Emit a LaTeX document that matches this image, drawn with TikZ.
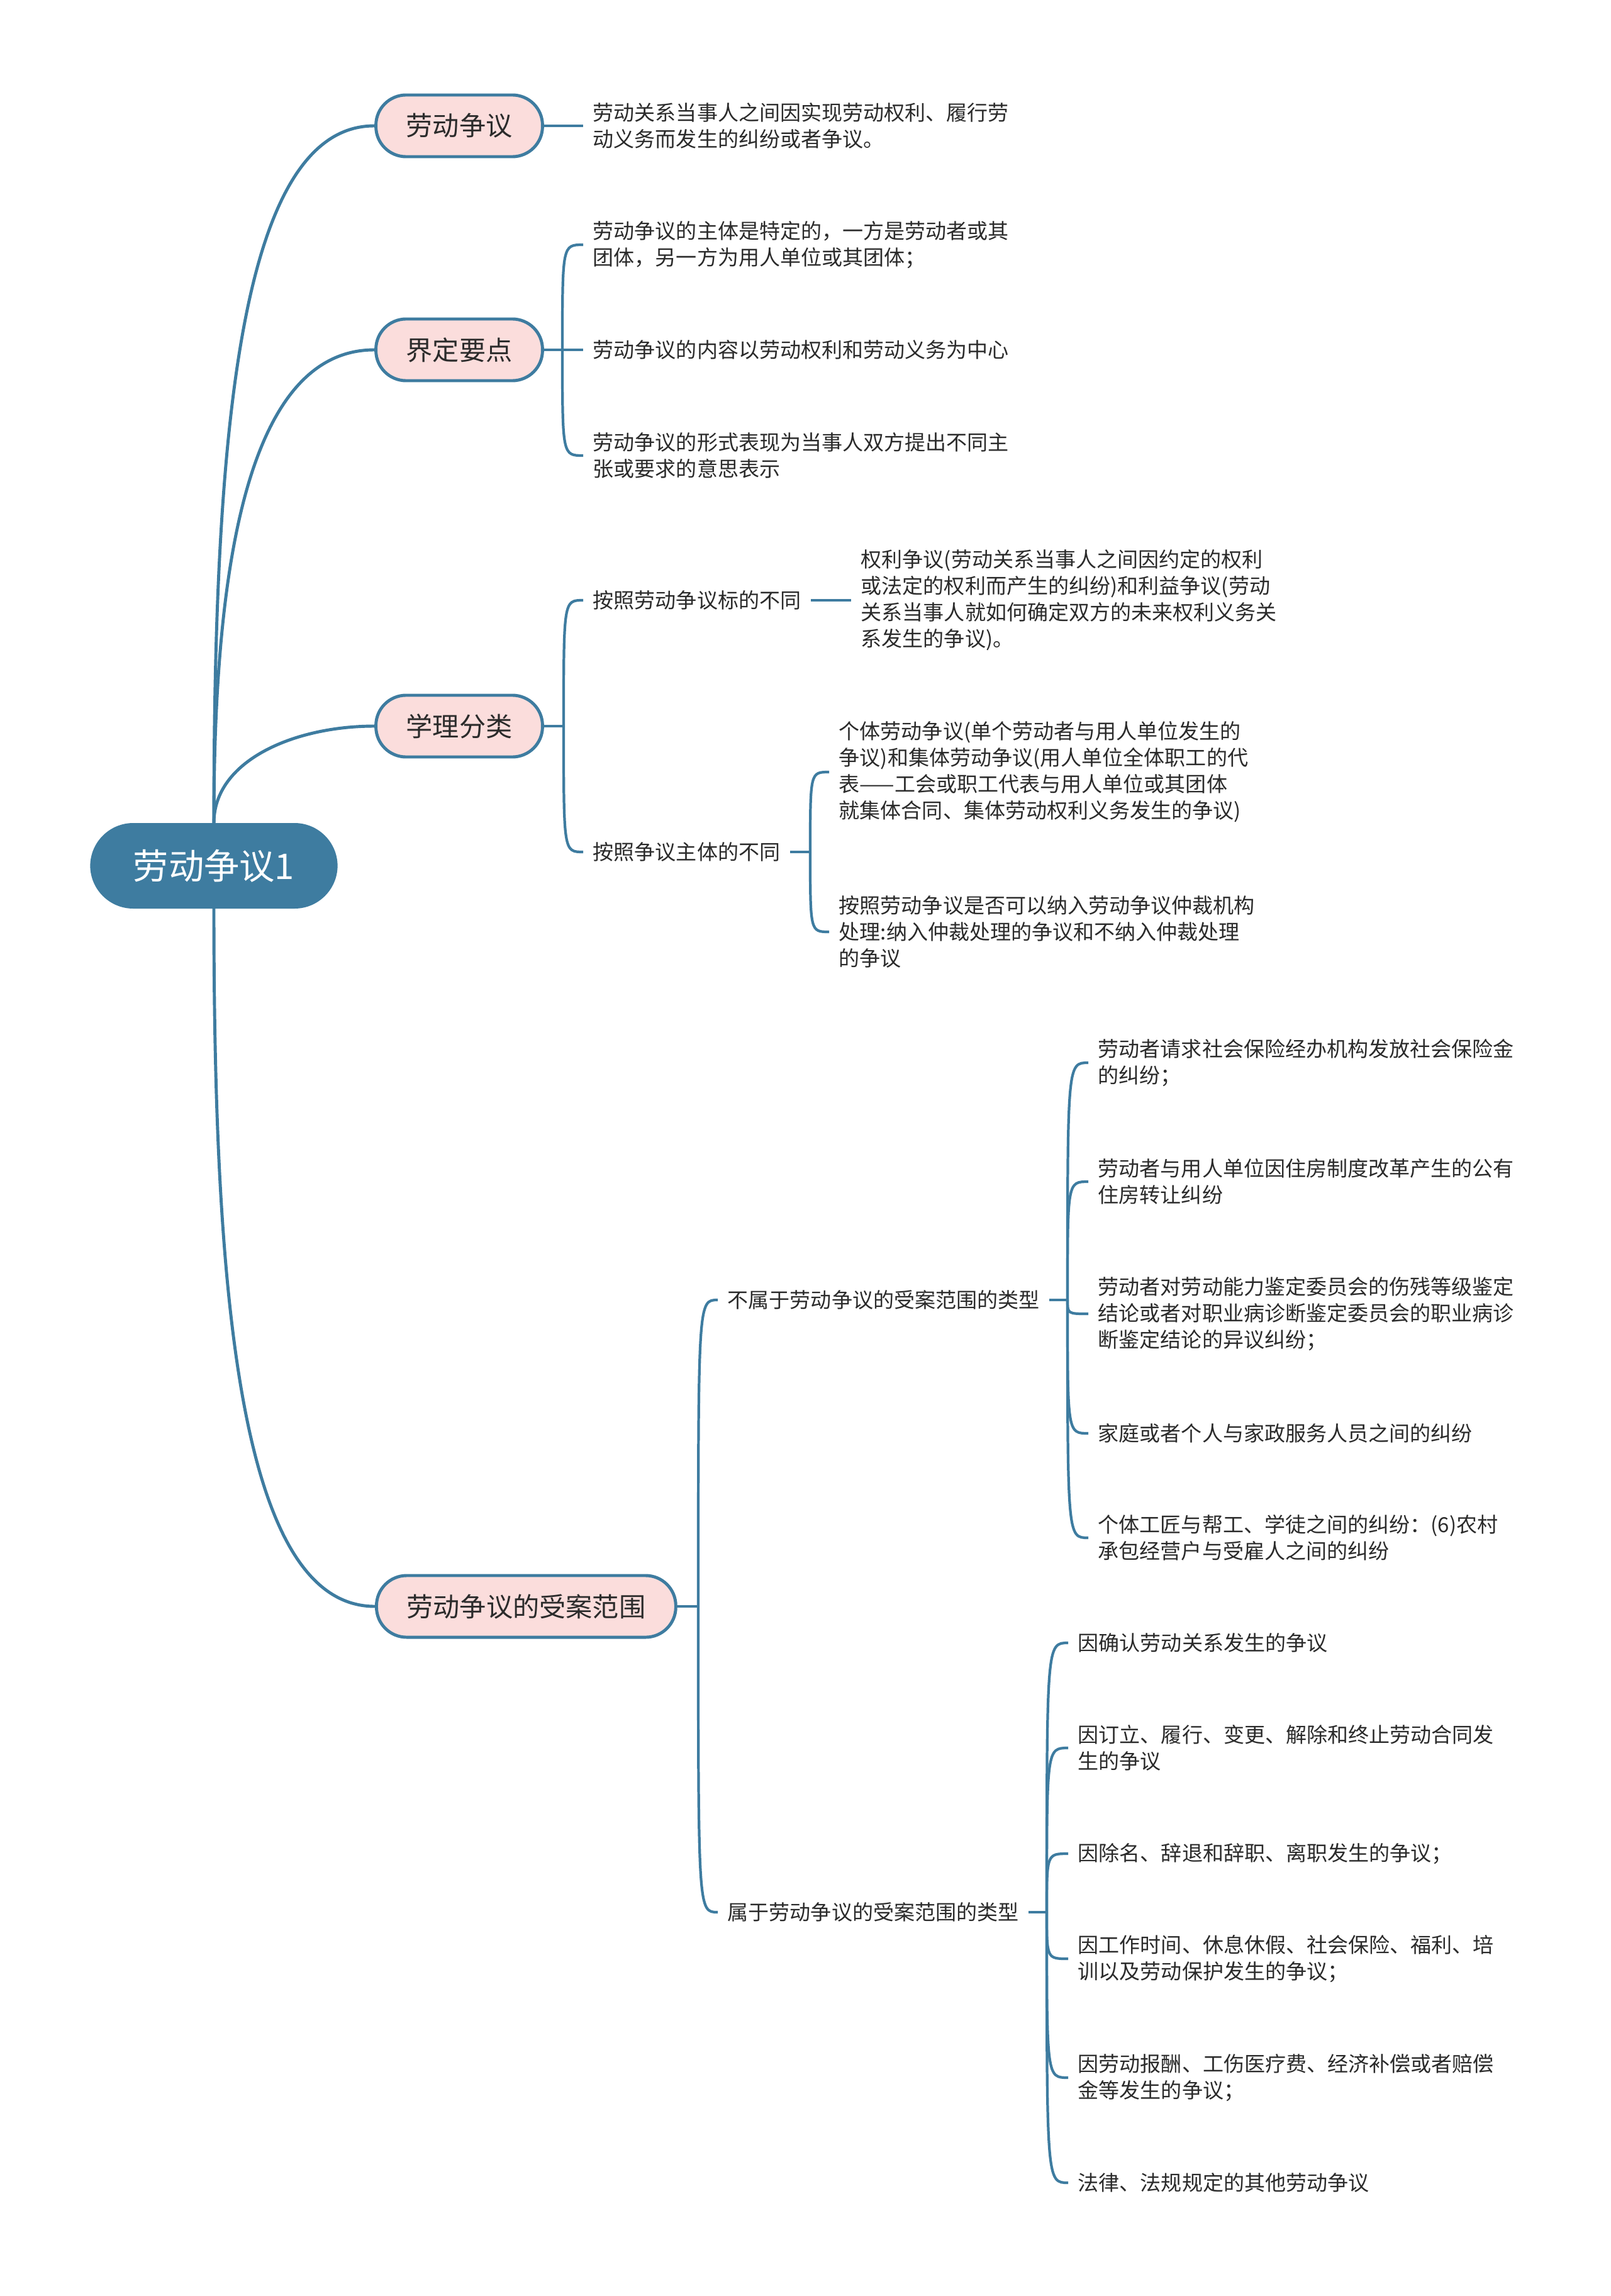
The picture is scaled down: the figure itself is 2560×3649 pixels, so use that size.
\documentclass[tikz,border=0pt]{standalone}
\usepackage{fontspec}
\newfontfamily\cjk{Noto Sans CJK SC}
\usetikzlibrary{positioning,calc}
\definecolor{mapblue}{RGB}{62,124,160}
\definecolor{mappink}{RGB}{251,221,220}
\definecolor{maptext}{RGB}{43,43,43}

\begin{document}
\begin{tikzpicture}[x=0.01cm,y=-0.01cm,
	rootbox/.style={draw=mapblue,fill=mapblue,line width=1.4pt,rounded corners=0.66cm,
		minimum height=1.31cm,inner xsep=0.66cm,text=white,font=\cjk\fontsize{16}{19}\selectfont},
	topic/.style={draw=mapblue,fill=mappink,line width=1.4pt,rounded corners=0.48cm,
		minimum height=0.98cm,inner xsep=0.48cm,text=maptext,font=\cjk\fontsize{12}{14}\selectfont},
	leaf/.style={anchor=west,align=left,inner xsep=0.15cm,inner ysep=0pt,text=maptext,
		font=\cjk\fontsize{9.4}{11.9}\selectfont},
	trunk/.style={draw=mapblue,line width=1.4pt},
	twig/.style={draw=mapblue,line width=1.2pt}]
				\path[fill=white] (0,0) rectangle (2560,3649);
				\useasboundingbox (0,0) rectangle (2560,3649);
				\node[rootbox] (root) at (340,1376) {劳动争议1};
				\node[topic] (defn) at (730,200) {劳动争议};
				\node[topic] (keyp) at (730,556) {界定要点};
				\node[topic] (clas) at (730,1154) {学理分类};
				\node[topic,anchor=west] (rng) at (596,2553) {劳动争议的受案范围};
				\draw[trunk] (root.north) .. controls +(0,-610) and +(-216,0) .. (defn.west);
				\draw[trunk] (root.north) .. controls +(0,-377) and +(-210,0) .. (keyp.west);
				\draw[trunk] (root.north) .. controls +(0,-100) and +(-126,0) .. (clas.west);
				\draw[trunk] (root.south) .. controls +(0,610) and +(-216,0) .. (rng.west);

				\node[leaf] (d1) at (927,200) {劳动关系当事人之间因实现劳动权利、履行劳\\动义务而发生的纠纷或者争议。};
				\draw[twig] (defn.east) -- (d1.west);

				\coordinate (jk) at (894,556);
				\node[leaf] (k1) at (927,389) {劳动争议的主体是特定的，一方是劳动者或其\\团体，另一方为用人单位或其团体；};
				\node[leaf] (k2) at (927,556) {劳动争议的内容以劳动权利和劳动义务为中心};
				\node[leaf] (k3) at (927,724) {劳动争议的形式表现为当事人双方提出不同主\\张或要求的意思表示};
				\draw[twig] (keyp.east) -- (jk);
				\foreach \k in {k1,k2,k3}{\draw[twig] (jk) .. controls (jk |- \k.west) .. (\k.west);}

				\coordinate (jc) at (896,1154);
				\node[leaf] (c1) at (927,954) {按照劳动争议标的不同};
				\node[leaf] (c2) at (927,1354) {按照争议主体的不同};
				\draw[twig] (clas.east) -- (jc);
				\foreach \k in {c1,c2}{\draw[twig] (jc) .. controls (jc |- \k.west) .. (\k.west);}
				\node[leaf] (c11) at (1353,954) {权利争议(劳动关系当事人之间因约定的权利\\或法定的权利而产生的纠纷)和利益争议(劳动\\关系当事人就如何确定双方的未来权利义务关\\系发生的争议)。};
				\draw[twig] (c1.east) -- (c11.west);
				\coordinate (jc2) at (1288,1354);
				\node[leaf] (c21) at (1318,1227) {个体劳动争议(单个劳动者与用人单位发生的\\争议)和集体劳动争议(用人单位全体职工的代\\表——工会或职工代表与用人单位或其团体\\就集体合同、集体劳动权利义务发生的争议)};
				\node[leaf] (c22) at (1318,1481) {按照劳动争议是否可以纳入劳动争议仲裁机构\\处理:纳入仲裁处理的争议和不纳入仲裁处理\\的争议};
				\draw[twig] (c2.east) -- (jc2);
				\foreach \k in {c21,c22}{\draw[twig] (jc2) .. controls (jc2 |- \k.west) .. (\k.west);}

				\coordinate (jr) at (1110,2553);
				\node[leaf] (r1) at (1141,2066) {不属于劳动争议的受案范围的类型};
				\node[leaf] (r2) at (1141,3039) {属于劳动争议的受案范围的类型};
				\draw[twig] (rng.east) -- (jr);
				\foreach \k in {r1,r2}{\draw[twig] (jr) .. controls (jr |- \k.west) .. (\k.west);}

				\coordinate (jr1) at (1697,2066);
				\node[leaf] (r11) at (1730,1689) {劳动者请求社会保险经办机构发放社会保险金\\的纠纷；};
				\node[leaf] (r12) at (1730,1878) {劳动者与用人单位因住房制度改革产生的公有\\住房转让纠纷};
				\node[leaf] (r13) at (1730,2088) {劳动者对劳动能力鉴定委员会的伤残等级鉴定\\结论或者对职业病诊断鉴定委员会的职业病诊\\断鉴定结论的异议纠纷；};
				\node[leaf] (r14) at (1730,2278) {家庭或者个人与家政服务人员之间的纠纷};
				\node[leaf] (r15) at (1730,2444) {个体工匠与帮工、学徒之间的纠纷：(6)农村\\承包经营户与受雇人之间的纠纷};
				\draw[twig] (r1.east) -- (jr1);
				\foreach \k in {r11,r12,r13,r14,r15}{\draw[twig] (jr1) .. controls (jr1 |- \k.west) .. (\k.west);}

				\coordinate (jr2) at (1664,3039);
				\node[leaf] (r21) at (1698,2611) {因确认劳动关系发生的争议};
				\node[leaf] (r22) at (1698,2778) {因订立、履行、变更、解除和终止劳动合同发\\生的争议};
				\node[leaf] (r23) at (1698,2946) {因除名、辞退和辞职、离职发生的争议；};
				\node[leaf] (r24) at (1698,3113) {因工作时间、休息休假、社会保险、福利、培\\训以及劳动保护发生的争议；};
				\node[leaf] (r25) at (1698,3302) {因劳动报酬、工伤医疗费、经济补偿或者赔偿\\金等发生的争议；};
				\node[leaf] (r26) at (1698,3469) {法律、法规规定的其他劳动争议};
				\draw[twig] (r2.east) -- (jr2);
				\foreach \k in {r21,r22,r23,r24,r25,r26}{\draw[twig] (jr2) .. controls (jr2 |- \k.west) .. (\k.west);}
			\end{tikzpicture}
\end{document}
